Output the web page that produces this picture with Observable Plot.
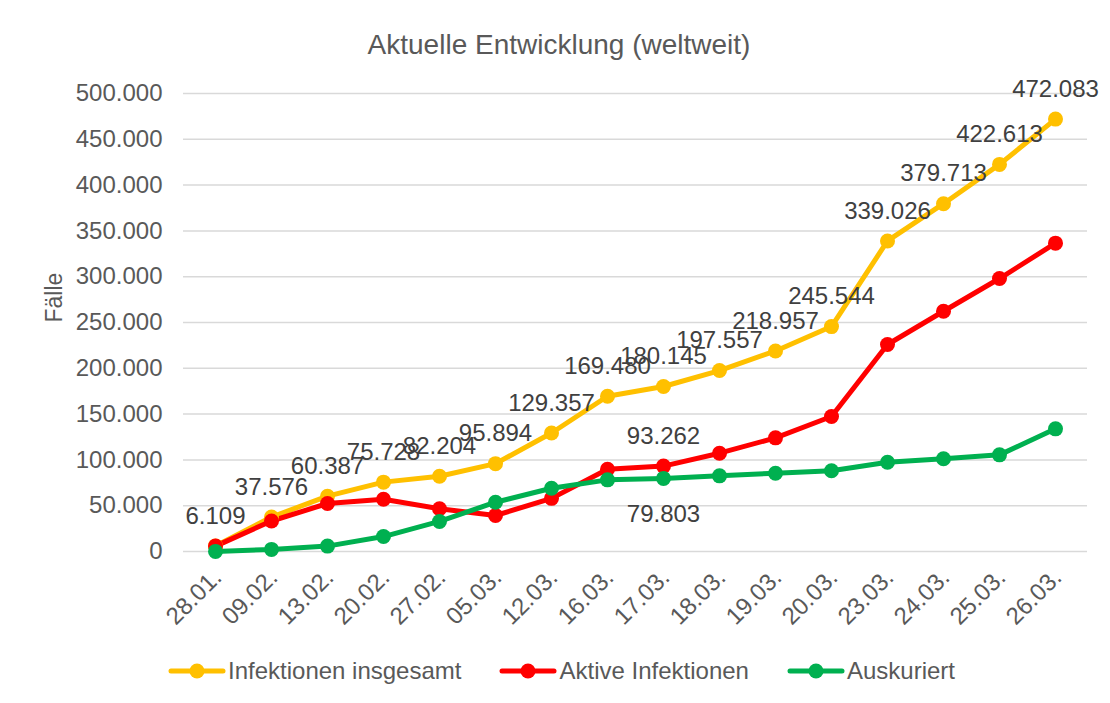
<!DOCTYPE html>
<html>
<head>
<meta charset="utf-8">
<script src="https://cdn.jsdelivr.net/npm/d3@7"></script>
<script src="https://cdn.jsdelivr.net/npm/@observablehq/plot@0.6"></script>
<style>
  html, body { margin: 0; padding: 0; background: #fff; }
  body { position: relative; width: 1110px; height: 703px; overflow: hidden; font-family: "Liberation Sans", Arial, sans-serif; }
  #title { height: 70px; text-align: center; font-size: 28px; color: #595959; line-height: 1; padding-top: 31px; box-sizing: border-box; padding-left: 8px; }
  #chart { height: 570px; }
  #legend { position: absolute; left: 168px; top: 655px; height: 32px; display: flex; align-items: center; font-size: 24px; line-height: 1; color: #595959; }
  .item { display: flex; align-items: center; margin-right: 38px; }
  .item svg { margin-right: 2px; }
</style>
</head>
<body>
<div id="title">Aktuelle Entwicklung (weltweit)</div>
<div id="chart"></div>
<div id="legend"></div>
<script>
const dates = ["28.01.", "09.02.", "13.02.", "20.02.", "27.02.", "05.03.", "12.03.", "16.03.", "17.03.", "18.03.", "19.03.", "20.03.", "23.03.", "24.03.", "25.03.", "26.03."];
const seriesNames = ["Infektionen insgesamt", "Aktive Infektionen", "Auskuriert"];
const seriesColors = ["#FFC000", "#FF0000", "#00B050"];
const insgesamt = [6109, 37576, 60387, 75728, 82204, 95894, 129357, 169480, 180145, 197557, 218957, 245544, 339026, 379713, 422613, 472083];
const aktive = [5900, 33300, 52400, 57000, 46700, 39300, 58000, 89800, 93262, 107300, 124100, 147400, 226000, 262300, 298000, 336600];
const auskuriert = [100, 2300, 5900, 16300, 32800, 53800, 69000, 78200, 79803, 82600, 85500, 88100, 97500, 101200, 105500, 133900];
// which points carry a data label, and where (above / below)
const labelledInsgesamt = dates;           // all points, above
const labelledAktive = ["17.03."];         // above
const labelledAuskuriert = ["17.03."];     // below
const yTicks = [0, 50000, 100000, 150000, 200000, 250000, 300000, 350000, 400000, 450000, 500000];

const de = d3.formatLocale({decimal: ",", thousands: ".", grouping: [3], currency: ["", " €"]});
const fmt = de.format(",d");

const valuesBySeries = [insgesamt, aktive, auskuriert];
const rows = [];
seriesNames.forEach((s, i) => dates.forEach((d, j) => rows.push({series: s, date: d, value: valuesBySeries[i][j]})));

const labelsAbove = rows.filter(r =>
  (r.series === seriesNames[0] && labelledInsgesamt.includes(r.date)) ||
  (r.series === seriesNames[1] && labelledAktive.includes(r.date)));
const labelsBelow = rows.filter(r => r.series === seriesNames[2] && labelledAuskuriert.includes(r.date));

const chart = Plot.plot({
  width: 1110,
  height: 570,
  marginLeft: 183,
  marginRight: 23,
  marginTop: 23,
  marginBottom: 89,
  style: {fontFamily: "'Liberation Sans', Arial, sans-serif", fontSize: "24px", color: "#595959", background: "#fff", overflow: "visible"},
  x: {type: "point", domain: dates, padding: 0.5},
  y: {domain: [0, 500000]},
  color: {domain: seriesNames, range: seriesColors},
  marks: [
    Plot.gridY(yTicks, {stroke: "#D9D9D9", strokeOpacity: 1, strokeWidth: 1.5}),
    Plot.axisY(yTicks, {tickSize: 0, tickPadding: 21, tickFormat: fmt, label: null, fill: "#595959", fontSize: 24}),
    Plot.axisX(dates, {tickSize: 0, tickPadding: 22, dx: 2, tickRotate: -45, label: null, fill: "#595959", fontSize: 24}),
    Plot.text(["Fälle"], {frameAnchor: "left", rotate: -90, dx: -129, fill: "#595959", fontSize: 23}),
    Plot.line(rows, {x: "date", y: "value", z: "series", stroke: "series", strokeWidth: 5, strokeLinejoin: "round"}),
    Plot.dot(rows, {x: "date", y: "value", fill: "series", r: 7.5}),
    Plot.text(labelsAbove, {x: "date", y: "value", text: d => fmt(d.value), dy: -30, fill: "#404040", fontSize: 24}),
    Plot.text(labelsBelow, {x: "date", y: "value", text: d => fmt(d.value), dy: 36, fill: "#404040", fontSize: 24})
  ]
});
document.getElementById("chart").appendChild(chart);

const legend = document.getElementById("legend");
seriesNames.forEach((s, i) => {
  const item = document.createElement("div");
  item.className = "item";
  item.innerHTML = `<svg width="58" height="18"><line x1="3" y1="9" x2="55" y2="9" stroke="${seriesColors[i]}" stroke-width="5" stroke-linecap="round"/><circle cx="29" cy="9" r="7.5" fill="${seriesColors[i]}"/></svg><span>${s}</span>`;
  legend.appendChild(item);
});
</script>
</body>
</html>
